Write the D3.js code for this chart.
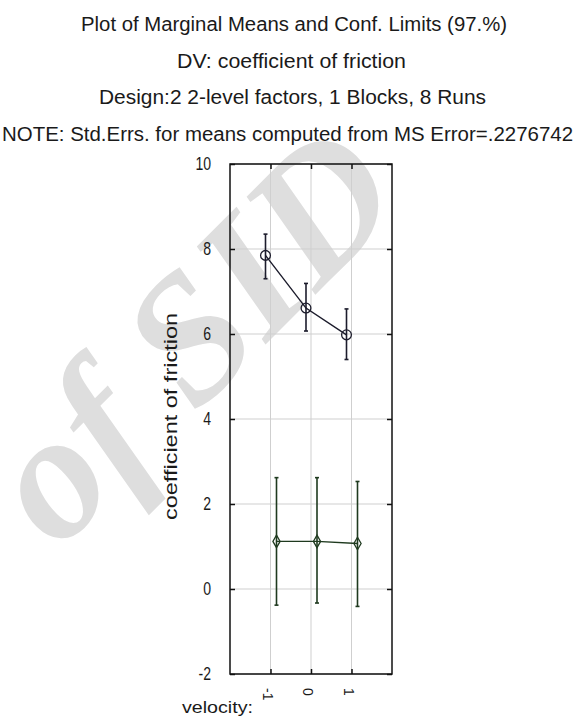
<!DOCTYPE html>
<html>
<head>
<meta charset="utf-8">
<script src="https://cdn.jsdelivr.net/npm/d3@7"></script>
<style>
  body { margin: 0; background: #fff; }
  svg text { font-family: "Liberation Sans", Arial, sans-serif; fill: #1a1a1a; }
</style>
</head>
<body>
<svg id="chart" width="575" height="716"></svg>
<script>
// Data
var velocityLevels = ['-1', '0', '1'];
var yTicks = [-2, 0, 2, 4, 6, 8, 10];

// upper series (dark, circles)
var meansA = [7.85, 6.61, 5.98];
var upperA = [8.35, 7.19, 6.59];
var lowerA = [7.30, 6.07, 5.40];

// lower series (green, diamonds)
var meansB = [1.12, 1.12, 1.07];
var upperB = [2.62, 2.62, 2.53];
var lowerB = [-0.38, -0.33, -0.41];

var titleLines = [
    'Plot of Marginal Means and Conf. Limits (97.%)',
    'DV: coefficient of friction',
    'Design:2 2-level factors, 1 Blocks, 8 Runs',
    'NOTE: Std.Errs. for means computed from MS Error=.2276742'
];

var svg = d3.select('#chart');

// plot frame (careful: "top" is taken by window.top)
var plotLeft = 230, plotRight = 392, plotTop = 164, plotBottom = 674;

var x = d3.scaleLinear().domain([0, 4]).range([plotLeft, plotRight]);
var y = d3.scaleLinear().domain([-2, 10]).range([plotBottom, plotTop]);

// watermark behind everything
svg.append('text')
    .attr('transform', 'translate(58,552) rotate(-45)')
    .style('font-family', '"Liberation Serif", "DejaVu Serif", serif')
    .style('font-weight', 'bold')
    .style('font-style', 'italic')
    .style('font-size', '180px')
    .style('fill', '#dedede')
    .text('of SID');

// titles, stretched to the widths seen in the picture
var titleSpans = [[81, 507], [177, 406], [99, 486], [2, 573]];
var titleBase = [31, 67.5, 104, 140.5];
svg.append('g').selectAll('text')
    .data(titleLines)
    .enter().append('text')
    .attr('x', function(d, i) { return titleSpans[i][0]; })
    .attr('y', function(d, i) { return titleBase[i]; })
    .attr('textLength', function(d, i) { return titleSpans[i][1] - titleSpans[i][0]; })
    .attr('lengthAdjust', 'spacingAndGlyphs')
    .style('font-size', '20px')
    .text(function(d) { return d; });

// gridlines
var grid = svg.append('g').attr('class', 'grid');
grid.selectAll('.hgrid')
    .data(yTicks)
    .enter().append('line')
    .attr('x1', plotLeft).attr('x2', plotRight)
    .attr('y1', function(d) { return y(d); })
    .attr('y2', function(d) { return y(d); })
    .attr('stroke', '#cfcfcf');
grid.selectAll('.vgrid')
    .data(velocityLevels)
    .enter().append('line')
    .attr('x1', function(d, i) { return x(i + 1); })
    .attr('x2', function(d, i) { return x(i + 1); })
    .attr('y1', plotTop).attr('y2', plotBottom)
    .attr('stroke', '#cfcfcf');

// axes with inward ticks on all four sides
var yAxisL = d3.axisLeft(y).tickValues(yTicks).tickSize(-5).tickFormat(function(d) { return String(d); });
var yAxisR = d3.axisRight(y).tickValues(yTicks).tickSize(-5).tickFormat('');
var xAxisB = d3.axisBottom(x).tickValues([1, 2, 3]).tickSize(-5).tickFormat('');
var xAxisT = d3.axisTop(x).tickValues([1, 2, 3]).tickSize(-5).tickFormat('');

function styleAxis(g) {
    g.select('.domain').remove();
    g.selectAll('.tick line').attr('stroke', '#111').attr('stroke-width', 1.5);
}

// tick numbers are tall and narrow in the original, so squeeze them sideways
var squeeze = 0.78;
svg.append('g').attr('transform', 'translate(' + plotLeft + ',0)').call(yAxisL).call(styleAxis)
    .selectAll('text')
    .attr('x', -19 / squeeze)
    .attr('transform', 'scale(' + squeeze + ',1)')
    .attr('fill', '#1a1a1a')
    .style('font-size', '18px')
    .style('font-family', '"Liberation Sans", Arial, sans-serif');
svg.append('g').attr('transform', 'translate(' + plotRight + ',0)').call(yAxisR).call(styleAxis);
svg.append('g').attr('transform', 'translate(0,' + plotBottom + ')').call(xAxisB).call(styleAxis);
svg.append('g').attr('transform', 'translate(0,' + plotTop + ')').call(xAxisT).call(styleAxis);

svg.append('rect')
    .attr('x', plotLeft).attr('y', plotTop)
    .attr('width', plotRight - plotLeft).attr('height', plotBottom - plotTop)
    .attr('fill', 'none').attr('stroke', '#111').attr('stroke-width', 1.5);

// rotated category labels
svg.append('g').selectAll('text')
    .data(velocityLevels)
    .enter().append('text')
    .attr('transform', function(d, i) { return 'translate(' + (x(i + 1) - 3) + ',688) rotate(90)'; })
    .attr('dy', '0.35em')
    .style('font-size', '14px')
    .text(function(d) { return d; });

svg.append('text')
    .attr('x', 182).attr('y', 713)
    .attr('textLength', 71)
    .attr('lengthAdjust', 'spacingAndGlyphs')
    .style('font-size', '17px')
    .text('velocity:');

// y axis title
svg.append('text')
    .attr('transform', 'translate(177,520) rotate(-90)')
    .attr('textLength', 207)
    .attr('lengthAdjust', 'spacingAndGlyphs')
    .style('font-size', '18px')
    .text('coefficient of friction');

// draw one series: whiskers, connecting line, markers
// (the two series are nudged apart sideways, as in the original)
function drawSeries(means, lower, upper, color, marker, nudge) {
    var g = svg.append('g');
    var pts = means.map(function(m, i) { return { i: i + 1, m: m, lo: lower[i], hi: upper[i] }; });
    var px = function(d) { return x(d.i) + nudge; };

    g.selectAll('.bar')
        .data(pts)
        .enter().append('line')
        .attr('x1', px)
        .attr('x2', px)
        .attr('y1', function(d) { return y(d.lo); })
        .attr('y2', function(d) { return y(d.hi); })
        .attr('stroke', color).attr('stroke-width', 1.6);

    var caps = [];
    pts.forEach(function(d) { caps.push({ i: d.i, v: d.lo }); caps.push({ i: d.i, v: d.hi }); });
    g.selectAll('.cap')
        .data(caps)
        .enter().append('line')
        .attr('x1', function(d) { return px(d) - 2; })
        .attr('x2', function(d) { return px(d) + 2; })
        .attr('y1', function(d) { return y(d.v); })
        .attr('y2', function(d) { return y(d.v); })
        .attr('stroke', color).attr('stroke-width', 1.6);

    g.append('path')
        .datum(pts)
        .attr('fill', 'none')
        .attr('stroke', color).attr('stroke-width', 1.4)
        .attr('d', d3.line().x(px).y(function(d) { return y(d.m); }));

    g.selectAll('.pt')
        .data(pts)
        .enter().append('path')
        .attr('transform', function(d) { return 'translate(' + px(d) + ',' + y(d.m) + ')'; })
        .attr('d', d3.symbol().type(marker).size(marker === d3.symbolCircle ? 75 : 45))
        .attr('fill', 'none')
        .attr('stroke', color).attr('stroke-width', 1.3);
}

drawSeries(meansA, lowerA, upperA, '#1c1c2c', d3.symbolCircle, -5);
drawSeries(meansB, lowerB, upperB, '#1f3a1f', d3.symbolDiamond, 6);
</script>
</body>
</html>
